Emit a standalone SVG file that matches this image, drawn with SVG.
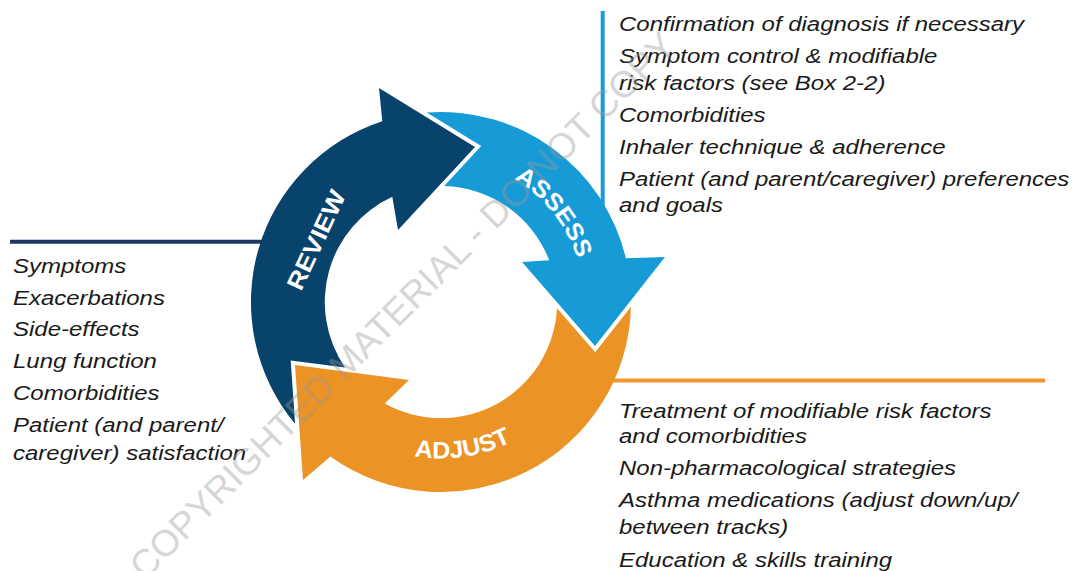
<svg xmlns="http://www.w3.org/2000/svg" width="1074" height="571" viewBox="0 0 1074 571">
<style>
.lst{font-family:"Liberation Sans",Arial,sans-serif;font-style:italic;font-size:20.5px;fill:#1a1a1a}
.lbl{font-family:"Liberation Sans",Arial,sans-serif;font-weight:bold;font-size:24px;fill:#ffffff}
.wm{font-family:"Liberation Sans",Arial,sans-serif;font-size:37px;fill:#9a9a9a;opacity:0.4}
</style>
<defs>
<path id="pAssess" d="M469.8,161.9 A143,143 0 0 1 583.9,306"/>
<path id="pAdjust" d="M359.3,435.5 A157,157 0 0 0 558.2,405.7"/>
</defs>
<rect width="1074" height="571" fill="#ffffff"/>
<g id="connectors">
<line x1="10" y1="241.7" x2="270" y2="241.7" stroke="#203864" stroke-width="4"/>
<line x1="602.7" y1="11" x2="602.7" y2="210" stroke="#1a9bd7" stroke-width="4"/>
<line x1="600" y1="380.5" x2="1045" y2="380.5" stroke="#f0962a" stroke-width="4"/>
</g>
<g id="review">
<path d="M295.1,423.8 A190,190 0 0 1 382.3,121.3 L379,88 L475,147 L398,230 L392.3,196.7 A116,116 0 0 0 345,367.5 L290.7,360.4 Z" fill="#08436b"/>
<text class="lbl" transform="translate(316,240) rotate(-65)" x="0" y="8.5" text-anchor="middle" textLength="107" lengthAdjust="spacingAndGlyphs">REVIEW</text>
</g>
<g id="assess">
<path d="M426.7,112.6 A190,190 0 0 1 625.9,258.3 L665,257 L595,346 L522,262 L549.2,260.2 A116,116 0 0 0 444.2,186.1 L481.2,146.1 Z" fill="#179bd7"/>
<text class="lbl"><textPath href="#pAssess" startOffset="50%" text-anchor="middle" textLength="104" lengthAdjust="spacingAndGlyphs">ASSESS</textPath></text>
</g>
<g id="adjust">
<path d="M631,306.7 A190,190 0 0 1 330.4,456.5 L303,480 L295,365 L409,380 L384.8,403.5 A116,116 0 0 0 557,308.3 L595.2,352.2 Z" fill="#eb9325"/>
<text class="lbl"><textPath href="#pAdjust" startOffset="50%" text-anchor="middle" textLength="100" lengthAdjust="spacingAndGlyphs">ADJUST</textPath></text>
</g>
<g id="review-list" transform="translate(13,0) scale(1.17,1)">
<text class="lst" x="0" y="273">Symptoms</text>
<text class="lst" x="0" y="304.7">Exacerbations</text>
<text class="lst" x="0" y="336.3">Side-effects</text>
<text class="lst" x="0" y="367.8">Lung function</text>
<text class="lst" x="0" y="399.8">Comorbidities</text>
<text class="lst" x="0" y="432">Patient (and parent/</text>
<text class="lst" x="0" y="460">caregiver) satisfaction</text>
</g>
<g id="assess-list" transform="translate(619,0) scale(1.17,1)">
<text class="lst" x="0" y="30.7">Confirmation of diagnosis if necessary</text>
<text class="lst" x="0" y="63.3">Symptom control &amp; modifiable</text>
<text class="lst" x="0" y="90">risk factors (see Box 2-2)</text>
<text class="lst" x="0" y="121.7">Comorbidities</text>
<text class="lst" x="0" y="154.3">Inhaler technique &amp; adherence</text>
<text class="lst" x="0" y="185.7">Patient (and parent/caregiver) preferences</text>
<text class="lst" x="0" y="212.3">and goals</text>
</g>
<g id="adjust-list" transform="translate(619,0) scale(1.17,1)">
<text class="lst" x="0" y="417.7">Treatment of modifiable risk factors</text>
<text class="lst" x="0" y="442.7">and comorbidities</text>
<text class="lst" x="0" y="475">Non-pharmacological strategies</text>
<text class="lst" x="0" y="506.7">Asthma medications (adjust down/up/</text>
<text class="lst" x="0" y="534.3">between tracks)</text>
<text class="lst" x="0" y="566.7">Education &amp; skills training</text>
</g>
<text class="wm" transform="translate(145,581) rotate(-45)" x="0" y="0">COPYRIGHTED MATERIAL - DO NOT COPY</text>
</svg>
